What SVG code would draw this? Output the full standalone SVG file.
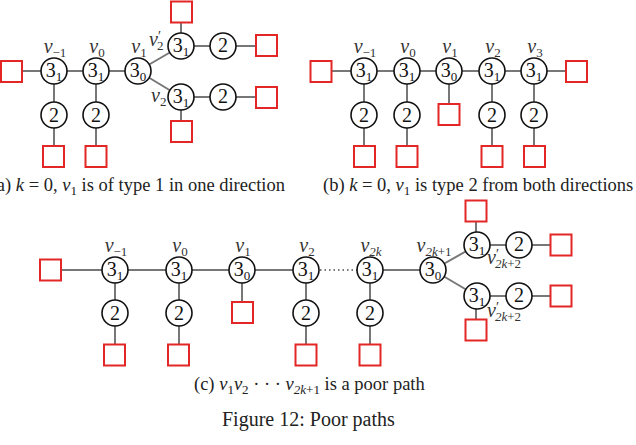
<svg xmlns="http://www.w3.org/2000/svg" width="636" height="445" viewBox="0 0 636 445">
<style>
.e{stroke:#777;stroke-width:2;fill:none}
.d{stroke:#777;stroke-width:2;fill:none;stroke-dasharray:1.5 3}
.c{fill:#fff;stroke:#111;stroke-width:1.6}
.s{fill:#fff;stroke:#e32626;stroke-width:2}
.n{font-family:"Liberation Serif",serif;font-size:20px;fill:#111;text-anchor:middle}
.l{font-family:"Liberation Serif",serif;font-style:italic;font-size:20px;fill:#333;text-anchor:middle}
.ls{font-family:"Liberation Serif",serif;font-style:italic;font-size:20px;fill:#333}
.sub{font-size:13px;font-style:normal}
.subi{font-size:13px}
.pr{font-size:14px;font-style:normal}
.cap{font-family:"Liberation Serif",serif;font-size:18.5px;fill:#222}
</style>
<defs>
<rect id="sq" x="-10.5" y="-10.5" width="21" height="21" class="s"/>
<circle id="ci" r="13" class="c"/>
</defs>
<g id="connectors">
<line class="e" x1="12" y1="71" x2="138" y2="71"/>
<line class="e" x1="138" y1="71" x2="181" y2="46"/>
<line class="e" x1="138" y1="71" x2="181" y2="97"/>
<line class="e" x1="181" y1="46" x2="266" y2="46"/>
<line class="e" x1="181" y1="97" x2="266" y2="97"/>
<line class="e" x1="181" y1="12" x2="181" y2="46"/>
<line class="e" x1="181" y1="97" x2="181" y2="131"/>
<line class="e" x1="54" y1="71" x2="54" y2="156"/>
<line class="e" x1="96" y1="71" x2="96" y2="156"/>
<line class="e" x1="321" y1="71" x2="576" y2="71"/>
<line class="e" x1="364" y1="71" x2="364" y2="156"/>
<line class="e" x1="407" y1="71" x2="407" y2="156"/>
<line class="e" x1="449" y1="71" x2="449" y2="114"/>
<line class="e" x1="492" y1="71" x2="492" y2="156"/>
<line class="e" x1="534" y1="71" x2="534" y2="156"/>
<line class="e" x1="50" y1="270" x2="306" y2="270"/>
<line class="d" x1="320" y1="270" x2="357" y2="270"/>
<line class="e" x1="370" y1="270" x2="433" y2="270"/>
<line class="e" x1="433" y1="270" x2="477" y2="245"/>
<line class="e" x1="433" y1="270" x2="477" y2="296"/>
<line class="e" x1="477" y1="245" x2="561" y2="245"/>
<line class="e" x1="477" y1="296" x2="561" y2="296"/>
<line class="e" x1="476" y1="211" x2="476" y2="245"/>
<line class="e" x1="476" y1="296" x2="476" y2="330"/>
<line class="e" x1="115" y1="270" x2="115" y2="355"/>
<line class="e" x1="179" y1="270" x2="179" y2="355"/>
<line class="e" x1="242" y1="270" x2="242" y2="313"/>
<line class="e" x1="306" y1="270" x2="306" y2="355"/>
<line class="e" x1="370" y1="270" x2="370" y2="355"/>
</g>
<g id="a_sqL"><use href="#sq" x="11.5" y="71.5"/></g>
<g id="a_vm1"><use href="#ci" x="54" y="71"/><text class="n" x="54" y="77">3<tspan class="sub" dy="4">1</tspan></text><text class="l" x="55" y="53">v<tspan class="sub" dy="4">−1</tspan></text></g>
<g id="a_v0"><use href="#ci" x="96" y="71"/><text class="n" x="96" y="77">3<tspan class="sub" dy="4">1</tspan></text><text class="l" x="97" y="53">v<tspan class="sub" dy="4">0</tspan></text></g>
<g id="a_v1"><use href="#ci" x="138" y="71"/><text class="n" x="138" y="77">3<tspan class="sub" dy="4">0</tspan></text><text class="l" x="139" y="53">v<tspan class="sub" dy="4">1</tspan></text></g>
<g id="a_u3"><use href="#ci" x="181" y="46"/><text class="n" x="181" y="52">3<tspan class="sub" dy="4">1</tspan></text><text class="ls" x="149" y="46">v<tspan class="pr" dy="-5">′</tspan><tspan class="sub" dx="-4" dy="9">2</tspan></text></g>
<g id="a_u2"><use href="#ci" x="223" y="46"/><text class="n" x="223" y="52">2</text></g>
<g id="a_usqR"><use href="#sq" x="266.5" y="45.5"/></g>
<g id="a_usqT"><use href="#sq" x="181.5" y="12"/></g>
<g id="a_l3"><use href="#ci" x="181" y="97"/><text class="n" x="181" y="103">3<tspan class="sub" dy="4">1</tspan></text><text class="ls" x="151" y="102">v<tspan class="sub" dy="4">2</tspan></text></g>
<g id="a_l2"><use href="#ci" x="223" y="97"/><text class="n" x="223" y="103">2</text></g>
<g id="a_lsqR"><use href="#sq" x="266.5" y="97.5"/></g>
<g id="a_lsqB"><use href="#sq" x="181.5" y="131.5"/></g>
<g id="a_vm1_2"><use href="#ci" x="54" y="115"/><text class="n" x="54" y="122">2</text></g>
<g id="a_v0_2"><use href="#ci" x="96" y="115"/><text class="n" x="96" y="122">2</text></g>
<g id="a_sqB1"><use href="#sq" x="53.5" y="156.5"/></g>
<g id="a_sqB2"><use href="#sq" x="96" y="156.5"/></g>
<text class="cap" x="285" y="191" text-anchor="end">(a) <tspan font-style="italic">k</tspan> = 0, <tspan font-style="italic">v</tspan><tspan class="sub" dy="4">1</tspan><tspan dy="-4"> is of type 1 in one direction</tspan></text>
<g id="b_sqL"><use href="#sq" x="321" y="71.5"/></g>
<g id="b_vm1"><use href="#ci" x="364" y="71"/><text class="n" x="364" y="77">3<tspan class="sub" dy="4">1</tspan></text><text class="l" x="365" y="53">v<tspan class="sub" dy="4">−1</tspan></text></g>
<g id="b_v0"><use href="#ci" x="407" y="71"/><text class="n" x="407" y="77">3<tspan class="sub" dy="4">1</tspan></text><text class="l" x="408" y="53">v<tspan class="sub" dy="4">0</tspan></text></g>
<g id="b_v1"><use href="#ci" x="449" y="71"/><text class="n" x="449" y="77">3<tspan class="sub" dy="4">0</tspan></text><text class="l" x="450" y="53">v<tspan class="sub" dy="4">1</tspan></text></g>
<g id="b_v2"><use href="#ci" x="492" y="71"/><text class="n" x="492" y="77">3<tspan class="sub" dy="4">1</tspan></text><text class="l" x="493" y="53">v<tspan class="sub" dy="4">2</tspan></text></g>
<g id="b_v3"><use href="#ci" x="534" y="71"/><text class="n" x="534" y="77">3<tspan class="sub" dy="4">1</tspan></text><text class="l" x="535" y="53">v<tspan class="sub" dy="4">3</tspan></text></g>
<g id="b_sqR"><use href="#sq" x="576.5" y="71.5"/></g>
<g id="b_2a"><use href="#ci" x="364" y="115"/><text class="n" x="364" y="122">2</text></g>
<g id="b_2b"><use href="#ci" x="407" y="115"/><text class="n" x="407" y="122">2</text></g>
<g id="b_sqM"><use href="#sq" x="449" y="114.5"/></g>
<g id="b_2c"><use href="#ci" x="492" y="115"/><text class="n" x="492" y="122">2</text></g>
<g id="b_2d"><use href="#ci" x="534" y="115"/><text class="n" x="534" y="122">2</text></g>
<g id="b_sqB1"><use href="#sq" x="364.5" y="156.5"/></g>
<g id="b_sqB2"><use href="#sq" x="407" y="156.5"/></g>
<g id="b_sqB3"><use href="#sq" x="492" y="156.5"/></g>
<g id="b_sqB4"><use href="#sq" x="534.5" y="156.5"/></g>
<text class="cap" x="323" y="191">(b) <tspan font-style="italic">k</tspan> = 0, <tspan font-style="italic">v</tspan><tspan class="sub" dy="4">1</tspan><tspan dy="-4"> is type 2 from both directions</tspan></text>
<g id="c_sqL"><use href="#sq" x="50.5" y="270"/></g>
<g id="c_vm1"><use href="#ci" x="115" y="270"/><text class="n" x="115" y="276">3<tspan class="sub" dy="4">1</tspan></text><text class="l" x="116" y="252">v<tspan class="sub" dy="4">−1</tspan></text></g>
<g id="c_v0"><use href="#ci" x="179" y="270"/><text class="n" x="179" y="276">3<tspan class="sub" dy="4">1</tspan></text><text class="l" x="180" y="252">v<tspan class="sub" dy="4">0</tspan></text></g>
<g id="c_v1"><use href="#ci" x="242" y="270"/><text class="n" x="242" y="276">3<tspan class="sub" dy="4">0</tspan></text><text class="l" x="243" y="252">v<tspan class="sub" dy="4">1</tspan></text></g>
<g id="c_v2"><use href="#ci" x="306" y="270"/><text class="n" x="306" y="276">3<tspan class="sub" dy="4">1</tspan></text><text class="l" x="307" y="252">v<tspan class="sub" dy="4">2</tspan></text></g>
<g id="c_v2k"><use href="#ci" x="370" y="270"/><text class="n" x="370" y="276">3<tspan class="sub" dy="4">1</tspan></text><text class="l" x="371" y="252">v<tspan class="subi" dy="4">2k</tspan></text></g>
<g id="c_v2k1"><use href="#ci" x="433" y="270"/><text class="n" x="433" y="276">3<tspan class="sub" dy="4">0</tspan></text><text class="l" x="434" y="252">v<tspan class="subi" dy="4">2k<tspan font-style="normal">+1</tspan></tspan></text></g>
<g id="c_u3"><use href="#ci" x="477" y="245"/><text class="n" x="477" y="251">3<tspan class="sub" dy="4">1</tspan></text><text class="ls" x="487" y="264">v<tspan class="pr" dy="-5">′</tspan><tspan class="subi" dx="-4" dy="9">2k<tspan font-style="normal">+2</tspan></tspan></text></g>
<g id="c_u2"><use href="#ci" x="519" y="245"/><text class="n" x="519" y="251">2</text></g>
<g id="c_usqR"><use href="#sq" x="561" y="245"/></g>
<g id="c_usqT"><use href="#sq" x="476" y="211"/></g>
<g id="c_l3"><use href="#ci" x="477" y="296"/><text class="n" x="477" y="302">3<tspan class="sub" dy="4">1</tspan></text><text class="ls" x="487" y="317">v<tspan class="pr" dy="-5">′</tspan><tspan class="subi" dx="-4" dy="9">2k<tspan font-style="normal">+2</tspan></tspan></text></g>
<g id="c_l2"><use href="#ci" x="519" y="296"/><text class="n" x="519" y="302">2</text></g>
<g id="c_lsqR"><use href="#sq" x="561" y="296"/></g>
<g id="c_lsqB"><use href="#sq" x="476" y="330"/></g>
<g id="c_2a"><use href="#ci" x="115" y="313"/><text class="n" x="115" y="320">2</text></g>
<g id="c_2b"><use href="#ci" x="179" y="313"/><text class="n" x="179" y="320">2</text></g>
<g id="c_sqM"><use href="#sq" x="242.5" y="312.5"/></g>
<g id="c_2c"><use href="#ci" x="306" y="313"/><text class="n" x="306" y="320">2</text></g>
<g id="c_2d"><use href="#ci" x="370" y="313"/><text class="n" x="370" y="320">2</text></g>
<g id="c_sqB1"><use href="#sq" x="114.5" y="355"/></g>
<g id="c_sqB2"><use href="#sq" x="178.5" y="355"/></g>
<g id="c_sqB3"><use href="#sq" x="306" y="355"/></g>
<g id="c_sqB4"><use href="#sq" x="370" y="355"/></g>
<text class="cap" x="194" y="390">(c) <tspan font-style="italic">v</tspan><tspan class="sub" dy="4">1</tspan><tspan font-style="italic" dy="-4">v</tspan><tspan class="sub" dy="4">2</tspan><tspan dy="-4"> · · · </tspan><tspan font-style="italic">v</tspan><tspan class="subi" font-style="italic" dy="4">2k</tspan><tspan class="sub">+1</tspan><tspan dy="-4"> is a poor path</tspan></text>
<text class="cap" x="222" y="426" style="font-size:20px">Figure 12: Poor paths</text>
</svg>
